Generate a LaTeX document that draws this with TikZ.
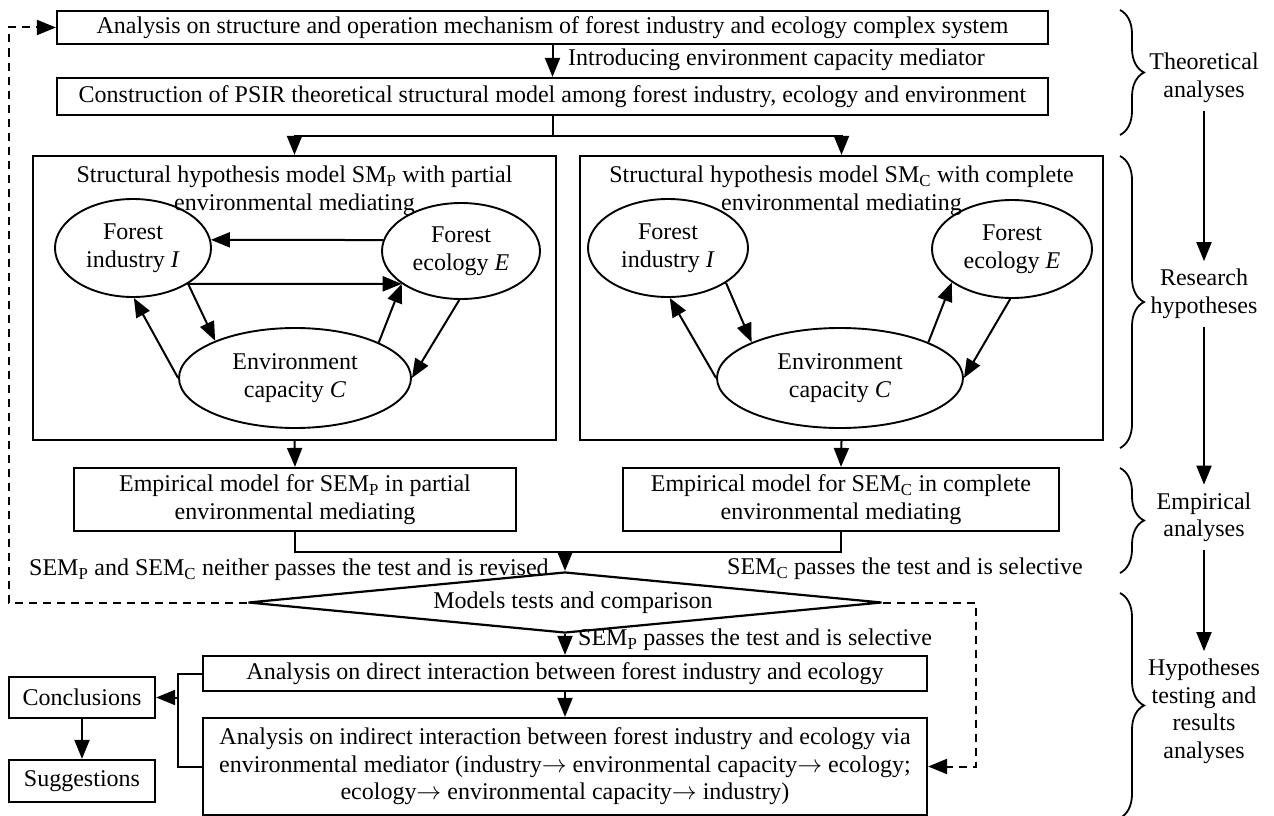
\documentclass[tikz,border=0pt]{standalone}
\usepackage{fontspec}
\setmainfont{Liberation Serif}
\usetikzlibrary{arrows.meta,shapes.geometric,decorations.pathreplacing,calc}
\newcommand{\ra}{$\rightarrow$}
\begin{document}
\begin{tikzpicture}[x=1pt,y=-1pt,
  every node/.style={font=\fontsize{24}{27.5}\selectfont, inner sep=0pt},
  box/.style={draw, line width=2.2pt, align=center},
  ell/.style={draw, ellipse, line width=1.9pt, align=center},
  lbl/.style={align=center, inner ysep=8pt},
  arr/.style={-{Triangle[length=19pt,width=15pt]}, line width=2pt},
  link/.style={line width=2pt},
  dasharr/.style={arr, dash pattern=on 8pt off 6pt},
  brc/.style={decorate, decoration={brace, amplitude=24pt}, line width=1.8pt}]
\fill[white] (0,0) rectangle (1274,816);
\useasboundingbox (0,0) rectangle (1274,816);

% theoretical stage
\node[box, minimum width=991pt, minimum height=33pt] (b1) at (552.5,27.5)
  {Analysis on structure and operation mechanism of forest industry and ecology complex system};
\node[box, minimum width=991pt, minimum height=37pt] (b2) at (552.5,96.5)
  {Construction of PSIR theoretical structural model among forest industry, ecology and environment};
\node[anchor=west] (intro) at (568,60) {Introducing environment capacity mediator};
\draw[arr] (b1.south) -- (b2.north);

% hypothesis models
\node[box, minimum width=523pt, minimum height=284pt] (pl) at (294.5,298) {};
\node[box, minimum width=523pt, minimum height=284pt] (pr) at (841.5,298) {};
\draw[arr] (b2.south) -- ++(0,20) -| (pl.north);
\draw[arr] (b2.south) -- ++(0,20) -| (pr.north);

\node[align=center] (tl) at (294.5,191) {Structural hypothesis model SM\textsubscript{P} with partial\\environmental mediating};
\node[align=center] (tr) at (841.5,191) {Structural hypothesis model SM\textsubscript{C} with complete\\environmental mediating};

\node[ell, minimum width=156pt, minimum height=98pt] (Il) at (133,248) {Forest\\industry \textit{I}};
\node[ell, minimum width=158pt, minimum height=96pt] (El) at (461,251) {Forest\\ecology \textit{E}};
\node[ell, minimum width=232pt, minimum height=100pt] (Cl) at (295,378) {Environment\\capacity \textit{C}};
\draw[arr] (El.172) -- (Il.6);
\draw[arr] (Il.-33) -- (El.-151);
\draw[arr] (Il.-33) -- (Cl.155);
\draw[arr] (Cl.180) -- (Il.-89);
\draw[arr] (Cl.23) -- (El.-151);
\draw[arr] (El.-92) -- (Cl.0);

\node[ell, minimum width=160pt, minimum height=98pt] (Ir) at (668,248) {Forest\\industry \textit{I}};
\node[ell, minimum width=160pt, minimum height=98pt] (Er) at (1012,249) {Forest\\ecology \textit{E}};
\node[ell, minimum width=246pt, minimum height=100pt] (Cr) at (840,378) {Environment\\capacity \textit{C}};
\draw[arr] (Ir.-31) -- (Cr.158);
\draw[arr] (Cr.180) -- (Ir.-88);
\draw[arr] (Cr.22) -- (Er.-151);
\draw[arr] (Er.-92) -- (Cr.0);

% empirical models
\node[box, minimum width=442pt, minimum height=63pt] (ep) at (295,499.5)
  {Empirical model for SEM\textsubscript{P} in partial\\environmental mediating};
\node[box, minimum width=436pt, minimum height=63pt] (ec) at (841,499.5)
  {Empirical model for SEM\textsubscript{C} in complete\\environmental mediating};
\draw[arr] (pl.south) -- (ep.north);
\draw[arr] (pr.south) -- (ec.north);

% tests
\node[draw, diamond, aspect=10.4, minimum width=634pt, minimum height=61pt, line width=2.2pt] (dm) at (565,602.5)
  {\hspace*{16pt}Models tests and comparison};
\coordinate (mg) at (565,552);
\draw[link] (ep.south) |- (mg) -| (ec.south);
\draw[arr] (mg) -- (dm.north);

\node[anchor=west] (neither) at (29,570) {SEM\textsubscript{P} and SEM\textsubscript{C} neither passes the test and is revised};
\node[anchor=east] (cpass) at (1083,569) {SEM\textsubscript{C} passes the test and is selective};
\node[anchor=west] (ppass) at (578,640) {SEM\textsubscript{P} passes the test and is selective};

% results
\node[box, minimum width=724pt, minimum height=35pt] (dr) at (565,673.5)
  {Analysis on direct interaction between forest industry and ecology};
\node[box, minimum width=724pt, minimum height=97pt] (ir) at (565,766.5)
  {Analysis on indirect interaction between forest industry and ecology via\\
   environmental mediator (industry\ra{} environmental capacity\ra{} ecology;\\
   ecology\ra{} environmental capacity\ra{} industry)};
\draw[arr] (dm.south) -- (dr.north);
\draw[arr] (dr.south) -- (ir.north);

\node[box, minimum width=146pt, minimum height=41pt] (co) at (82,697.5) {Conclusions};
\node[box, minimum width=146pt, minimum height=42pt] (su) at (82,781) {Suggestions};
\draw[arr] (co.south) -- (su.north);
\draw[link] (dr.west) -- ++(-24,0) |- (ir.west);
\draw[arr] ($(dr.west |- co.east)+(-24,0)$) -- (co.east);

% feedback loops
\draw[dasharr] (dm.west) -- ++(-238,0) |- (b1.west);
\draw[dasharr] (dm.east) -- ++(93,0) |- (ir.east);

% stage labels
\node[lbl] (ta) at (1204,78) {Theoretical\\analyses};
\node[lbl] (rh) at (1204,294) {Research\\hypotheses};
\node[lbl] (ea) at (1204,517.5) {Empirical\\analyses};
\node[lbl] (ht) at (1204,711.5) {Hypotheses\\testing and\\results\\analyses};
\draw[arr] (ta.south) -- (rh.north);
\draw[arr] (rh.south) -- (ea.north);
\draw[arr] (ea.south) -- (ht.north);

\draw[brc] (1120,10) -- (1120,135);
\draw[brc] (1120,156) -- (1120,448);
\draw[brc] (1120,468) -- (1120,573);
\draw[brc] (1120,593) -- (1120,818);
\end{tikzpicture}
\end{document}
